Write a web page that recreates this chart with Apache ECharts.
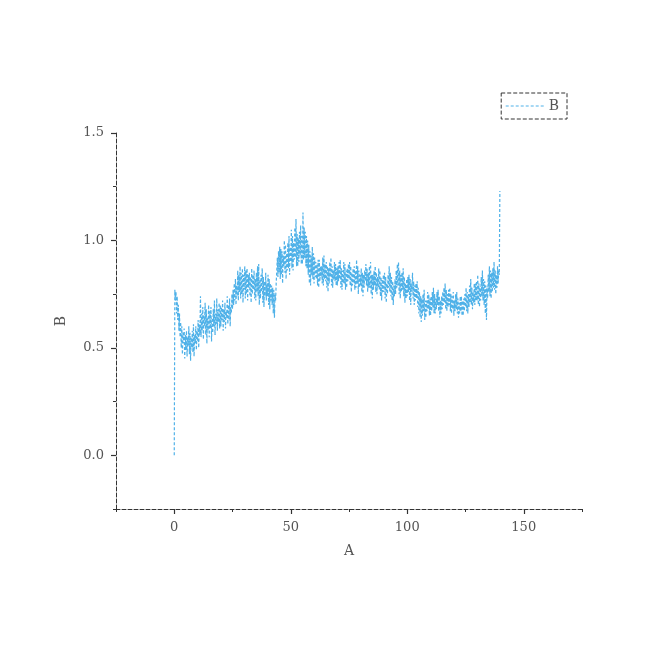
<!DOCTYPE html>
<html>
<head>
<meta charset="utf-8">
<script src="https://cdn.jsdelivr.net/npm/echarts@6/dist/echarts.min.js"></script>
<style>html,body{margin:0;padding:0;background:#fff}#c{width:657px;height:657px}</style>
</head>
<body>
<div id="c"></div>
<script>
// x values start at 0 with step 0.25
const xStart = 0;
const xStep = 0.25;
const seriesName = 'B';
const xAxisName = 'A';
const yAxisName = 'B';
const xTicks = [0, 50, 100, 150];
const yTicks = [0, 0.5, 1.0, 1.5];
const yValues = [
 0.00,0.77,0.72,0.76,0.66,0.74,0.63,0.70,0.58,0.66,0.55,0.62,0.50,0.60,0.47,0.57,0.52,0.59,0.45,0.56,
 0.49,0.58,0.46,0.55,0.51,0.60,0.47,0.57,0.44,0.55,0.50,0.58,0.48,0.61,0.46,0.56,0.52,0.60,0.49,0.58,
 0.53,0.63,0.50,0.61,0.56,0.74,0.55,0.66,0.58,0.69,0.54,0.65,0.60,0.71,0.56,0.68,0.52,0.64,0.58,0.70,
 0.55,0.67,0.59,0.69,0.53,0.64,0.57,0.68,0.60,0.72,0.56,0.66,0.61,0.73,0.58,0.68,0.62,0.71,0.59,0.70,
 0.60,0.69,0.63,0.72,0.58,0.68,0.62,0.71,0.59,0.67,0.64,0.74,0.61,0.70,0.63,0.73,0.60,0.69,0.66,0.75,
 0.68,0.77,0.70,0.80,0.72,0.82,0.70,0.79,0.74,0.86,0.72,0.84,0.76,0.88,0.73,0.85,0.75,0.87,0.71,0.84,
 0.77,0.88,0.73,0.86,0.75,0.87,0.72,0.84,0.78,0.85,0.74,0.83,0.71,0.87,0.75,0.84,0.77,0.86,0.73,0.82,
 0.72,0.85,0.76,0.88,0.74,0.89,0.70,0.82,0.73,0.84,0.76,0.87,0.71,0.83,0.69,0.81,0.74,0.85,0.72,0.80,
 0.74,0.84,0.70,0.82,0.68,0.80,0.72,0.79,0.70,0.78,0.66,0.77,0.64,0.75,0.72,0.80,0.80,0.92,0.83,0.95,
 0.85,0.97,0.82,0.96,0.84,0.95,0.80,0.93,0.88,1.00,0.85,0.98,0.82,0.94,0.86,0.99,0.87,1.02,0.84,0.97,
 0.90,1.05,0.87,1.02,0.86,0.99,0.91,1.06,0.92,1.10,0.88,1.03,0.88,1.01,0.90,1.04,0.93,1.07,0.89,1.02,
 0.89,1.13,0.91,1.06,0.92,1.04,0.88,1.02,0.87,1.00,0.84,0.98,0.80,0.95,0.79,0.93,0.84,0.97,0.82,0.94,
 0.80,0.92,0.83,0.90,0.82,0.89,0.79,0.91,0.78,0.91,0.81,0.88,0.83,0.88,0.80,0.92,0.79,0.93,0.82,0.89,
 0.81,0.90,0.78,0.88,0.76,0.87,0.80,0.90,0.83,0.92,0.79,0.88,0.78,0.86,0.82,0.90,0.81,0.89,0.79,0.87,
 0.79,0.88,0.81,0.90,0.82,0.91,0.78,0.87,0.77,0.86,0.80,0.90,0.80,0.89,0.77,0.86,0.78,0.87,0.81,0.89,
 0.82,0.90,0.79,0.88,0.76,0.85,0.79,0.87,0.80,0.88,0.77,0.86,0.78,0.91,0.80,0.88,0.75,0.86,0.78,0.84,
 0.79,0.87,0.76,0.85,0.74,0.84,0.78,0.86,0.81,0.89,0.79,0.87,0.76,0.85,0.78,0.88,0.78,0.90,0.75,0.84,
 0.73,0.84,0.77,0.86,0.79,0.88,0.76,0.85,0.75,0.83,0.78,0.87,0.77,0.86,0.74,0.83,0.72,0.82,0.76,0.84,
 0.76,0.85,0.73,0.83,0.71,0.80,0.75,0.84,0.78,0.88,0.76,0.85,0.74,0.83,0.72,0.81,0.70,0.79,0.74,0.82,
 0.75,0.86,0.78,0.89,0.79,0.90,0.75,0.86,0.73,0.84,0.76,0.85,0.77,0.87,0.74,0.83,0.71,0.80,0.73,0.82,
 0.74,0.83,0.76,0.84,0.72,0.82,0.70,0.80,0.76,0.85,0.73,0.81,0.70,0.79,0.72,0.80,0.73,0.81,0.69,0.78,
 0.66,0.76,0.64,0.74,0.62,0.73,0.65,0.75,0.67,0.77,0.63,0.72,0.64,0.72,0.67,0.76,0.68,0.75,0.65,0.73,
 0.65,0.74,0.67,0.76,0.69,0.78,0.66,0.75,0.66,0.73,0.68,0.76,0.70,0.77,0.67,0.74,0.64,0.72,0.66,0.74,
 0.68,0.76,0.70,0.78,0.71,0.80,0.68,0.77,0.67,0.75,0.69,0.77,0.70,0.78,0.67,0.75,0.66,0.74,0.68,0.76,
 0.65,0.72,0.67,0.75,0.68,0.76,0.66,0.73,0.64,0.71,0.66,0.74,0.67,0.74,0.65,0.72,0.65,0.73,0.67,0.75,
 0.69,0.78,0.67,0.76,0.66,0.75,0.69,0.79,0.71,0.82,0.70,0.78,0.68,0.76,0.71,0.80,0.70,0.80,0.72,0.81,
 0.72,0.84,0.70,0.80,0.69,0.78,0.72,0.83,0.74,0.86,0.72,0.82,0.70,0.81,0.66,0.79,0.63,0.78,0.73,0.84,
 0.76,0.88,0.74,0.86,0.73,0.85,0.76,0.87,0.78,0.90,0.77,0.86,0.75,0.84,0.78,0.88,0.80,0.86,0.84,1.23
];
const data = yValues.map((v, i) => [xStart + i * xStep, v]);

const font = 'DejaVu Serif';
const txt = '#555';
const axisCol = '#333';
const lineCol = '#4fb1e8';
const isMajor = (v, step) => Math.abs(v / step - Math.round(v / step)) < 1e-6;

const chart = echarts.init(document.getElementById('c'));
chart.setOption({
  animation: false,
  grid: { left: 116, right: 75, top: 133, bottom: 148 },
  legend: {
    right: 90, top: 93,
    itemWidth: 38, itemHeight: 10, itemGap: 4,
    padding: [6, 8, 6, 4],
    borderColor: '#333', borderWidth: 1, borderType: 'dashed',
    itemStyle: { opacity: 0 },
    lineStyle: { color: lineCol, width: 1, type: [3, 2] },
    textStyle: { fontFamily: font, fontSize: 14, color: txt },
    data: [seriesName]
  },
  xAxis: [{
    type: 'value', min: -25, max: 175, interval: 25,
    name: xAxisName, nameLocation: 'middle', nameGap: 35,
    nameTextStyle: { fontFamily: font, fontSize: 14, color: txt },
    axisLine: { onZero: false, lineStyle: { color: axisCol, type: 'dashed', width: 1 } },
    axisTick: { show: true, length: 3, lineStyle: { color: axisCol, type: 'solid' } },
    axisLabel: { margin: 12, fontFamily: font, fontSize: 13, color: txt,
      formatter: v => (v >= 0 && v <= 150 && isMajor(v, 50)) ? String(v) : '' },
    splitLine: { show: false }
  }, {
    type: 'value', min: -25, max: 175, position: 'bottom',
    axisLine: { show: false, onZero: false },
    axisTick: { show: true, customValues: xTicks, length: 5, lineStyle: { color: axisCol, width: 1.2 } },
    axisLabel: { show: false },
    splitLine: { show: false }
  }],
  yAxis: [{
    type: 'value', min: -0.25, max: 1.5, interval: 0.25,
    name: yAxisName, nameLocation: 'middle', nameGap: 48, nameRotate: 90,
    nameTextStyle: { fontFamily: font, fontSize: 14, color: txt },
    axisLine: { onZero: false, lineStyle: { color: axisCol, type: 'dashed', width: 1 } },
    axisTick: { show: true, length: 3, lineStyle: { color: axisCol, type: 'solid' } },
    axisLabel: { margin: 12, fontFamily: font, fontSize: 13, color: txt,
      formatter: v => (v >= -1e-9 && isMajor(v, 0.5)) ? v.toFixed(1) : '' },
    splitLine: { show: false }
  }, {
    type: 'value', min: -0.25, max: 1.5, position: 'left',
    axisLine: { show: false, onZero: false },
    axisTick: { show: true, customValues: yTicks, length: 5, lineStyle: { color: axisCol, width: 1.2 } },
    axisLabel: { show: false },
    splitLine: { show: false }
  }],
  series: [{
    name: seriesName, type: 'line', data: data,
    xAxisIndex: 0, yAxisIndex: 0,
    showSymbol: false, symbol: 'none',
    itemStyle: { color: lineCol },
    lineStyle: { color: lineCol, width: 1.2, type: [3, 2] }
  }]
});
</script>
</body>
</html>
